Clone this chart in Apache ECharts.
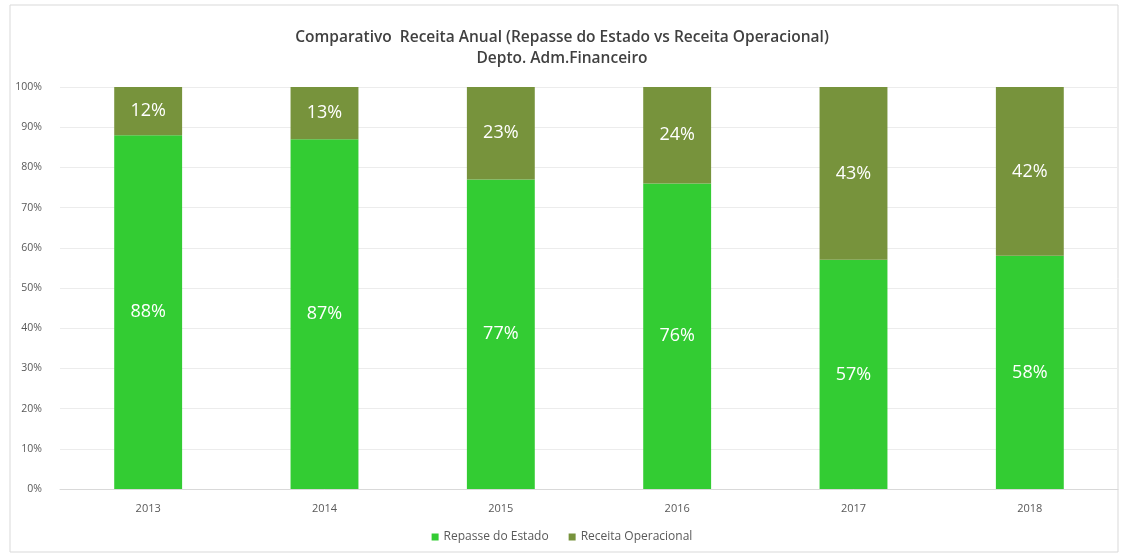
<!DOCTYPE html>
<html><head><meta charset="utf-8">
<script src="https://cdn.jsdelivr.net/npm/echarts@6/dist/echarts.min.js"></script>
<style>html,body{margin:0;padding:0;background:#fff}#c{width:1124px;height:556px}</style>
</head><body><div id="c"></div>
<script>
const categories = ['2013','2014','2015','2016','2017','2018'];
const repasse = [88,87,77,76,57,58];
const receita = [12,13,23,24,43,42];
const yTicks = [0,10,20,30,40,50,60,70,80,90,100];

const chart = echarts.init(document.getElementById('c'));
const lbl = {show:true, position:'inside', color:'#ffffff', fontSize:18, fontFamily:'Open Sans', formatter: p => p.value + '%'};
chart.setOption({
  animation:false,
  backgroundColor:'#fff',
  graphic:[{type:'rect', shape:{x:10,y:5,width:1108,height:547}, style:{fill:'none', stroke:'#d9d9d9', lineWidth:1}, silent:true}],
  title:{
    text:'Comparativo  Receita Anual (Repasse do Estado vs Receita Operacional)\nDepto. Adm.Financeiro',
    left:'center', top:22,
    textStyle:{fontFamily:'Open Sans', fontSize:15.5, fontWeight:'600', color:'#404040', lineHeight:21}
  },
  legend:{
    bottom:8, left:'center', itemWidth:7, itemHeight:7, itemGap:20, icon:'rect',
    textStyle:{fontFamily:'Open Sans', fontSize:12, color:'#595959'},
    data:['Repasse do Estado','Receita Operacional']
  },
  grid:{left:60, right:6, top:87, bottom:67},
  xAxis:{type:'category', data:categories,
    axisLine:{lineStyle:{color:'#d9d9d9'}}, axisTick:{show:false},
    axisLabel:{fontFamily:'Open Sans', fontSize:11, color:'#595959', margin:14}},
  yAxis:{type:'value', min:0, max:100, interval:10,
    axisLine:{show:false}, axisTick:{show:false},
    splitLine:{lineStyle:{color:'#ececec'}},
    axisLabel:{fontFamily:'Open Sans', fontSize:10.5, color:'#595959', margin:18, formatter: v => yTicks.includes(v) ? v + '%' : ''}},
  series:[
    {name:'Repasse do Estado', type:'bar', stack:'t', data:repasse, barWidth:'38.5%', itemStyle:{color:'#33CC33'}, label:lbl},
    {name:'Receita Operacional', type:'bar', stack:'t', data:receita, barWidth:'38.5%', itemStyle:{color:'#77933C'}, label:lbl}
  ]
});
</script></body></html>
